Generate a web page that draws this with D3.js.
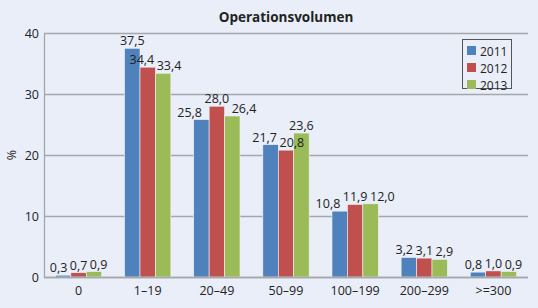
<!DOCTYPE html>
<html>
<head>
<meta charset="utf-8">
<script src="https://cdn.jsdelivr.net/npm/d3@7"></script>
<style>
  html, body { margin: 0; padding: 0; background: #e9eef8; }
  svg { display: block; }
  text { font-family: "Open Sans", "Noto Sans", sans-serif; fill: #222; }
</style>
</head>
<body>
<div id="chart"></div>
<script>
// Daten
const categories = ["0", "1\u201319", "20\u201349", "50\u201399", "100\u2013199", "200\u2013299", ">=300"];
const years = ["2011", "2012", "2013"];
const values2011 = [0.3, 37.5, 25.8, 21.7, 10.8, 3.2, 0.8];
const values2012 = [0.7, 34.4, 28.0, 20.8, 11.9, 3.1, 1.0];
const values2013 = [0.9, 33.4, 26.4, 23.6, 12.0, 2.9, 0.9];
const yTicks = [0, 10, 20, 30, 40];
const title = "Operationsvolumen";

const seriesValues = [values2011, values2012, values2013];
const colors = ["#4f81bd", "#c0504d", "#9bbb59"];

const w = 538, h = 308;
const m = { left: 44, right: 10, top: 33, bottom: 31 };
const fs = "12.5px";

const svg = d3.select("#chart").append("svg")
    .attr("width", w)
    .attr("height", h);

svg.append("rect").attr("width", w).attr("height", h).attr("fill", "#e9eef8");

const x0 = d3.scaleBand().domain(categories).range([m.left, w - m.right]).paddingInner(0.33).paddingOuter(0.165);
const x1 = d3.scaleBand().domain(years).range([0, x0.bandwidth()]);
const y = d3.scaleLinear().domain([0, 40]).range([h - m.bottom, m.top]);

// Gitternetz
svg.append("g")
    .selectAll("line")
    .data(yTicks)
    .join("line")
    .attr("x1", m.left).attr("x2", w - m.right)
    .attr("y1", d => Math.round(y(d)) + 0.5).attr("y2", d => Math.round(y(d)) + 0.5)
    .attr("stroke", "#a3a6aa")
    .attr("stroke-width", 1.3);

// linke Achse
svg.append("line")
    .attr("x1", m.left + 0.5).attr("x2", m.left + 0.5)
    .attr("y1", y(40)).attr("y2", y(0))
    .attr("stroke", "#a3a6aa").attr("stroke-width", 1.3);

const yAxis = svg.append("g")
    .attr("transform", `translate(${m.left},0)`)
    .call(d3.axisLeft(y).tickValues(yTicks).tickSize(0).tickPadding(5));
yAxis.select(".domain").remove();
yAxis.selectAll("text").style("font-size", fs).style("font-family", "Open Sans, sans-serif").attr("fill", "#222");

const xAxis = svg.append("g")
    .attr("transform", `translate(0,${h - m.bottom})`)
    .call(d3.axisBottom(x0).tickSize(0).tickPadding(9));
xAxis.select(".domain").remove();
xAxis.selectAll("text").style("font-size", fs).style("font-family", "Open Sans, sans-serif").attr("fill", "#222");

svg.append("text")
    .attr("transform", `translate(16,${(y(0) + y(40)) / 2}) rotate(-90)`)
    .attr("text-anchor", "middle")
    .style("font-size", fs)
    .text("%");

svg.append("text")
    .attr("x", (m.left + w - m.right) / 2)
    .attr("y", 22)
    .attr("text-anchor", "middle")
    .style("font-size", "13.5px")
    .style("font-weight", "bold")
    .text(title);

// Balken
const groups = svg.append("g")
    .selectAll("g")
    .data(categories)
    .join("g")
    .attr("transform", d => `translate(${x0(d)},0)`);

groups.selectAll("rect")
    .data((c, ci) => years.map((yr, si) => ({ yr, si, v: seriesValues[si][ci] })))
    .join("rect")
    .attr("x", d => x1(d.yr))
    .attr("width", x1.bandwidth())
    .attr("y", d => y(d.v))
    .attr("height", d => y(0) - y(d.v))
    .attr("fill", d => colors[d.si])
    .attr("stroke", "#f2f5fa")
    .attr("stroke-width", 0.6);

// Beschriftungen, einfache Kollisionsvermeidung
const fmt = v => d3.format(".1f")(v).replace(".", ",");
categories.forEach((c, ci) => {
    const labels = years.map((yr, si) => {
        const t = svg.append("text")
            .attr("text-anchor", "middle")
            .style("font-size", fs)
            .text(fmt(seriesValues[si][ci]));
        const bw = t.node().getComputedTextLength();
        return { t, cx: x0(c) + x1(yr) + x1.bandwidth() / 2, by: y(seriesValues[si][ci]) - 3, bw };
    });
    for (let it = 0; it < 40; it++) {
        for (let i = 0; i < labels.length - 1; i++) {
            const a = labels[i], b = labels[i + 1];
            if (Math.abs(a.by - b.by) >= 14) continue;
            const gap = (b.cx - b.bw / 2) - (a.cx + a.bw / 2);
            if (gap < 2.5) {
                const push = (2.5 - gap) / 2;
                a.cx -= push; b.cx += push;
            }
        }
    }
    labels.forEach(l => l.t.attr("x", l.cx).attr("y", l.by));
});

// Achsenlinie unten
svg.append("line")
    .attr("x1", m.left).attr("x2", w - m.right)
    .attr("y1", Math.round(y(0)) + 0.5).attr("y2", Math.round(y(0)) + 0.5)
    .attr("stroke", "#a3a6aa").attr("stroke-width", 1.3);

// Legende
const legend = svg.append("g").attr("transform", "translate(462,39)");
legend.append("rect")
    .attr("x", 0.5).attr("y", 0.5)
    .attr("width", 49).attr("height", 49)
    .attr("fill", "#e9eef8")
    .attr("stroke", "#555").attr("stroke-width", 1);

years.forEach((yr, i) => {
    const row = legend.append("g").attr("transform", `translate(5,${7 + i * 17})`);
    row.append("rect").attr("width", 9).attr("height", 9).attr("fill", colors[i]);
    row.append("text")
        .attr("x", 13).attr("y", 9.5)
        .style("font-size", "12px")
        .text(yr);
});
</script>
</body>
</html>
